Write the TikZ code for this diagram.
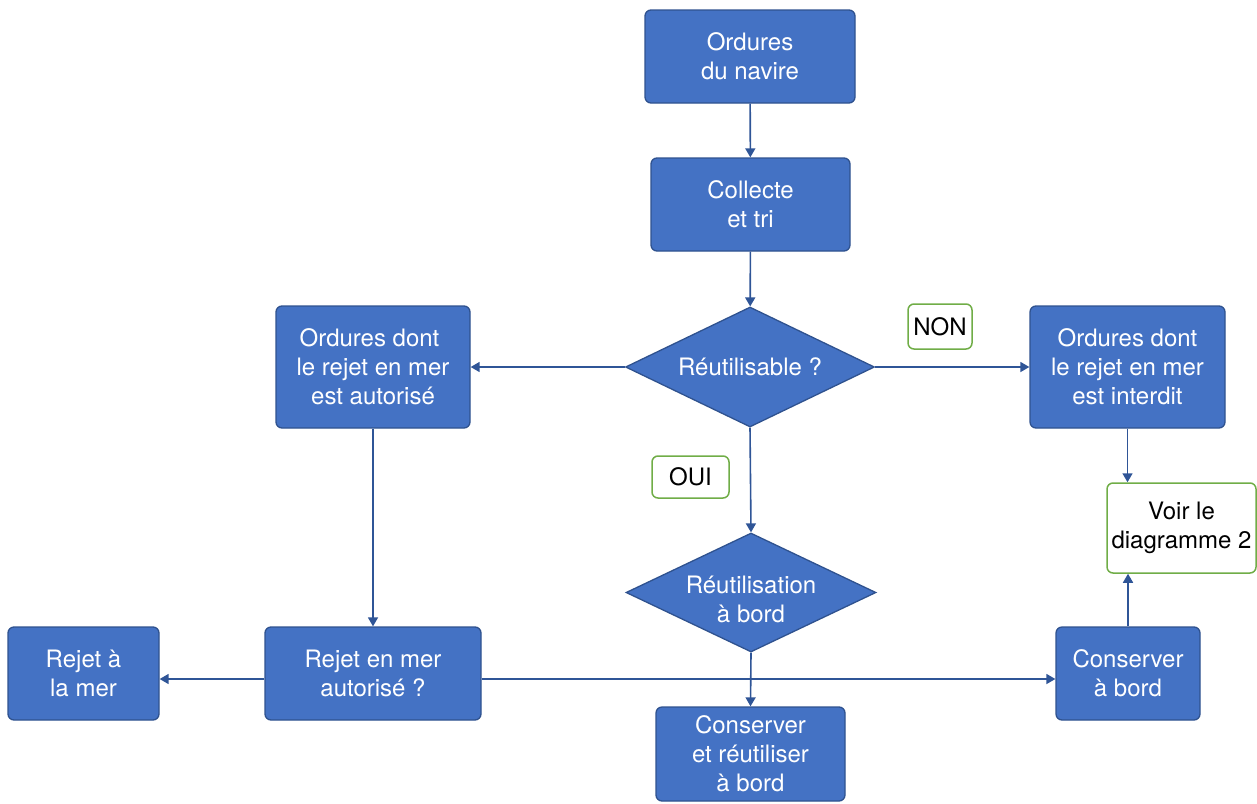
\documentclass[tikz,border=0pt]{standalone}
\usepackage{fontspec}
\setmainfont{TeX Gyre Heros}
\usetikzlibrary{shapes.geometric,arrows.meta}
\definecolor{boxfill}{HTML}{4472C4}
\definecolor{boxline}{HTML}{2F528F}
\definecolor{conn}{HTML}{2F5597}
\definecolor{tagline}{HTML}{70AD47}
\tikzset{
  every node/.style={font=\fontsize{24}{29}\selectfont, align=center, inner sep=0pt},
  bluebox/.style={draw=boxline, line width=1.3pt, fill=boxfill, text=white, rounded corners=6pt},
  bluediamond/.style={diamond, shape aspect=2.08, draw=boxline, line width=1.3pt, fill=boxfill, text=white},
  tagbox/.style={draw=tagline, line width=1.5pt, fill=white, text=black, rounded corners=6pt},
  link/.style={draw=conn, line width=1.6pt, -{Triangle[length=9pt,width=10pt]}},
}
\begin{document}
\begin{tikzpicture}[x=1pt,y=-1pt]
\useasboundingbox (0,0) rectangle (1257,803);

% main column
\node[bluebox, minimum width=210pt, minimum height=93pt] (src) at (750,56.5) {Ordures\\du navire};
\node[bluebox, minimum width=199pt, minimum height=93pt] (sort) at (750.5,204.5) {Collecte\\et tri};
\node[bluediamond, minimum width=249pt, minimum height=120pt] (reuse) at (750,367) {Réutilisable ?};
\node[bluediamond, minimum width=250pt, minimum height=119pt,
      label={[text=white, yshift=-7pt]center:Réutilisation\\à bord}] (onboard) at (751,592.5) {};
\node[bluebox, minimum width=189pt, minimum height=94pt] (keepreuse) at (750.5,754) {Conserver\\et réutiliser\\à bord};

% side branches
\node[bluebox, minimum width=194pt, minimum height=122pt] (allowed) at (373,367) {Ordures dont\kern7pt\\le rejet en mer\\est autorisé};
\node[bluebox, minimum width=195pt, minimum height=122pt] (banned) at (1127.5,367) {Ordures dont\\le rejet en mer\\est interdit};
\node[bluebox, minimum width=216pt, minimum height=93pt] (ask) at (373,673.5) {Rejet en mer\\autorisé ?};
\node[bluebox, minimum width=151pt, minimum height=93pt] (sea) at (83.5,673.5) {Rejet à\\la mer};
\node[bluebox, minimum width=144pt, minimum height=93pt] (keep) at (1128,673.5) {Conserver\\à bord};
\node[tagbox, minimum width=149pt, minimum height=90pt] (see) at (1181.5,528) {Voir le\\diagramme 2};

% answer tags
\node[tagbox, minimum width=64pt, minimum height=45pt] (no) at (940,326.5) {NON};
\node[tagbox, minimum width=77pt, minimum height=42pt] (yes) at (690.5,477) {OUI};

% connectors
\draw[link] (src) -- (sort);
\draw[link] (sort) -- (reuse);
\draw[link] (reuse.west) -- (allowed.east);
\draw[link] (reuse.east) -- (banned.west);
\draw[link] (reuse.south) -- (onboard.north);
\draw[link] (allowed.south) -- (ask.north);
\draw[link] (banned.south) -- (banned.south |- see.north);
\draw[link] (keep.north) -- (keep.north |- see.south);
\draw[link] ([yshift=-5.5pt]ask.west) -- ([yshift=-5.5pt]ask.west -| sea.east);
\draw[link] ([yshift=-5.5pt]ask.east) -- ([yshift=-5.5pt]ask.east -| keep.west);
\draw[link] (onboard.south) -- (keepreuse.north);
\end{tikzpicture}
\end{document}
